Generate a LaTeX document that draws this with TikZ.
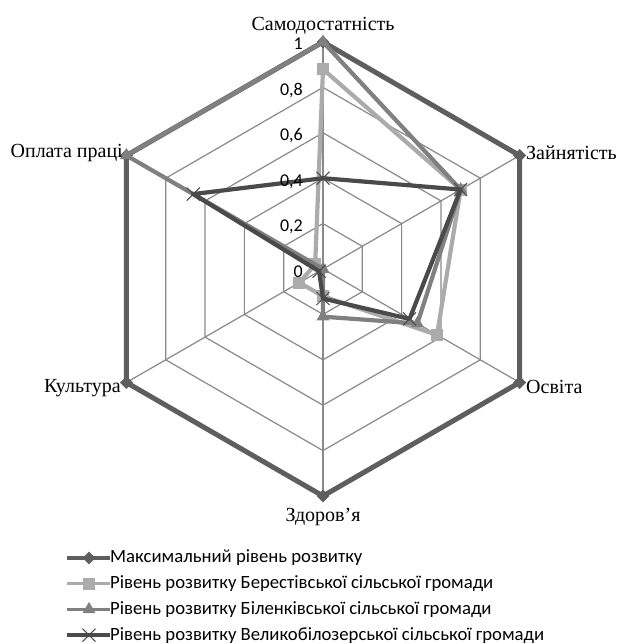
\documentclass[tikz,border=0pt]{standalone}
\usepackage{fontspec}
\setmainfont{Liberation Serif}
\newfontfamily\calib{Carlito}
\usetikzlibrary{shapes.geometric,shapes.misc}
\definecolor{gridc}{HTML}{898989}
\definecolor{maxc}{HTML}{5E5E5E}
\definecolor{berc}{HTML}{ABABAB}
\definecolor{bilc}{HTML}{808080}
\definecolor{velc}{HTML}{4A4A4A}
\tikzset{
  gridline/.style={draw=gridc, line width=1.2pt},
  maxline/.style={draw=maxc, line width=5pt, line join=round},
  berline/.style={draw=berc, line width=4.2pt, line join=round},
  billine/.style={draw=bilc, line width=4.2pt, line join=round},
  velline/.style={draw=velc, line width=4.2pt, line join=round},
  dmark/.style={diamond, fill=maxc, minimum width=13pt, minimum height=13pt, inner sep=0pt},
  smark/.style={rectangle, fill=berc, minimum size=12pt, inner sep=0pt},
  tmark/.style={regular polygon, regular polygon sides=3, fill=bilc, minimum size=15pt, inner sep=0pt},
  xmark/.style={cross out, draw=velc, line width=1pt, minimum size=12pt, inner sep=0pt},
  axlab/.style={font=\fontsize{20}{20}\selectfont, inner sep=0pt},
  numlab/.style={font=\calib\fontsize{18}{18}\selectfont, anchor=base east, inner sep=0pt},
  leglab/.style={font=\calib\fontsize{18.7}{18.7}\selectfont, anchor=west, inner sep=0pt},
}
\begin{document}
\begin{tikzpicture}[x=1pt,y=-1pt]
\useasboundingbox[fill=white] (0,0) rectangle (619,644);
\def\cx{323}\def\cy{269}\def\R{227}
\coordinate (c) at (\cx,\cy);
% grid hexagons
\foreach \v in {0.2,0.4,0.6,0.8,1.0}{
  \draw[gridline] ({\cx},{\cy-\R*\v})
    \foreach \k in {1,...,5}{ -- ({\cx+\R*\v*sin(60*\k)},{\cy-\R*\v*cos(60*\k)}) } -- cycle;
}
\foreach \k in {0,...,5}{
  \coordinate (v\k) at ({\cx+\R*sin(60*\k)},{\cy-\R*cos(60*\k)});
  \draw[gridline] (c) -- (v\k);
}
% data coordinates
\foreach \k/\v in {0/0.88,1/0.70,2/0.58,3/0.12,4/0.12,5/0.04}
  \coordinate (b\k) at ({\cx+\R*\v*sin(60*\k)},{\cy-\R*\v*cos(60*\k)});
\foreach \k/\v in {0/1,1/0.70,2/0.48,3/0.21,4/0.0,5/1}
  \coordinate (l\k) at ({\cx+\R*\v*sin(60*\k)},{\cy-\R*\v*cos(60*\k)});
\foreach \k/\v in {0/0.40,1/0.70,2/0.44,3/0.13,4/0.02,5/0.66}
  \coordinate (g\k) at ({\cx+\R*\v*sin(60*\k)},{\cy-\R*\v*cos(60*\k)});
% series
\draw[maxline] (v0) -- (v1) -- (v2) -- (v3) -- (v4) -- (v5) -- cycle;
\foreach \k in {0,...,5} \node[dmark] (mv\k) at (v\k) {};
\draw[berline] (b0) -- (b1) -- (b2) -- (b3) -- (b4) -- (b5) -- cycle;
\foreach \k in {0,...,5} \node[smark] (mb\k) at (b\k) {};
\draw[billine] (l0) -- (l1) -- (l2) -- (l3) -- (l4) -- (l5) -- cycle;
\foreach \k in {0,...,5} \node[tmark] (ml\k) at (l\k) {};
\draw[velline] (g0) -- (g1) -- (g2) -- (g3) -- (g4) -- (g5) -- cycle;
\foreach \k in {0,...,5} \node[xmark] (mg\k) at (g\k) {};
% axis numbers
\foreach \v/\t in {0/0,0.2/{0,2},0.4/{0,4},0.6/{0,6},0.8/{0,8},1/1}
  \node[numlab] at (303,{\cy-\R*\v+8}) {\t};
% category labels
\node[axlab, anchor=base] (a0) at (323,31) {Самодостатність};
\node[axlab, anchor=base west] (a1) at (526,160) {Зайнятість};
\node[axlab, anchor=base west] (a2) at (526,393) {Освіта};
\node[axlab, anchor=base] (a3) at (323,521) {Здоров’я};
\node[axlab, anchor=base east] (a4) at (121,392) {Культура};
\node[axlab, anchor=base east] (a5) at (123,158) {Оплата праці};
% legend
\foreach \i/\st/\mk/\t in {
  0/maxline/dmark/{Максимальний рівень розвитку},
  1/berline/smark/{Рівень розвитку Берестівської сільської громади},
  2/billine/tmark/{Рівень розвитку Біленківської сільської громади},
  3/velline/xmark/{Рівень розвитку Великобілозерської сільської громади}}{
  \coordinate (ls\i) at (67,{558+25.7*\i});
  \coordinate (le\i) at (110,{558+25.7*\i});
  \draw[\st, line width=3.5pt] (ls\i) -- (le\i);
  \node[\mk] (lm\i) at (89,{558+25.7*\i}) {};
  \node[leglab] (lt\i) at (110,{558+25.7*\i}) {\t};
}
\end{tikzpicture}
\end{document}
